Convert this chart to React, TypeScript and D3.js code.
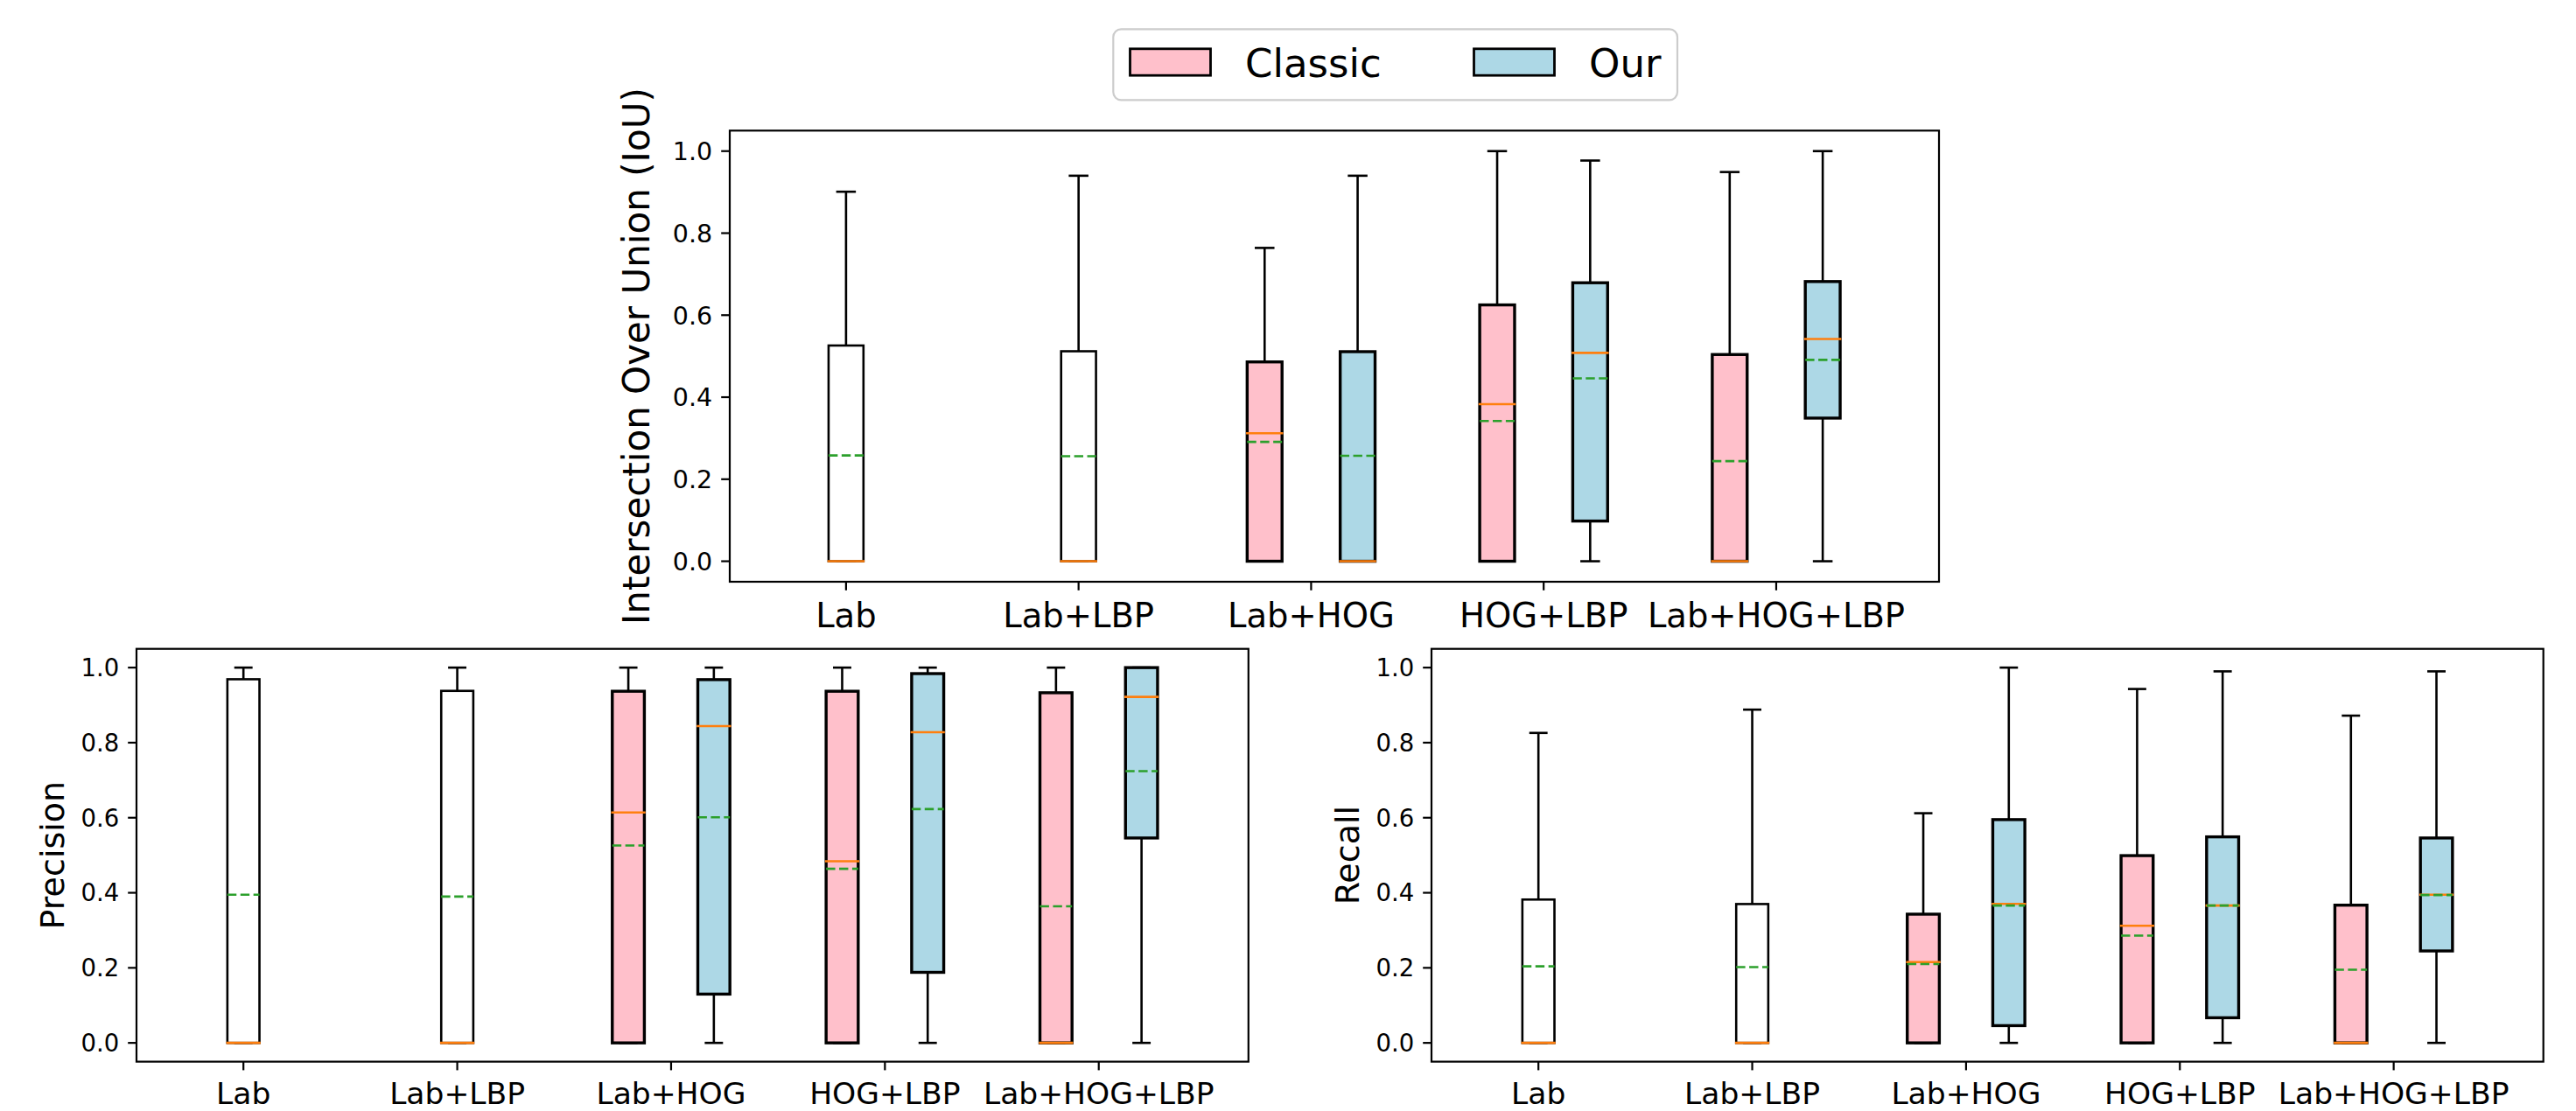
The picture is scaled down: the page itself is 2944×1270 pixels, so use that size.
import React from "react";
import * as d3 from "d3";

const categories = ["Lab", "Lab+LBP", "Lab+HOG", "HOG+LBP", "Lab+HOG+LBP"];
const seriesNames = ["Classic", "Our"];
const yTicks = [0, 0.2, 0.4, 0.6, 0.8, 1.0];

type Stat = { cat: string; lo: number; q1: number; med: number; q3: number; hi: number; mean: number };

// IoU
const iouSingle: Stat[] = [
  { cat: "Lab", lo: 0, q1: 0, med: 0, q3: 0.526, hi: 0.901, mean: 0.258 },
  { cat: "Lab+LBP", lo: 0, q1: 0, med: 0, q3: 0.512, hi: 0.94, mean: 0.256 },
];
const iouClassic: Stat[] = [
  { cat: "Lab+HOG", lo: 0, q1: 0, med: 0.312, q3: 0.486, hi: 0.764, mean: 0.291 },
  { cat: "HOG+LBP", lo: 0, q1: 0, med: 0.383, q3: 0.625, hi: 1.0, mean: 0.342 },
  { cat: "Lab+HOG+LBP", lo: 0, q1: 0, med: 0, q3: 0.504, hi: 0.949, mean: 0.244 },
];
const iouOur: Stat[] = [
  { cat: "Lab+HOG", lo: 0, q1: 0, med: 0, q3: 0.511, hi: 0.94, mean: 0.257 },
  { cat: "HOG+LBP", lo: 0, q1: 0.098, med: 0.508, q3: 0.679, hi: 0.977, mean: 0.446 },
  { cat: "Lab+HOG+LBP", lo: 0, q1: 0.349, med: 0.542, q3: 0.682, hi: 1.0, mean: 0.491 },
];

// Precision
const precSingle: Stat[] = [
  { cat: "Lab", lo: 0, q1: 0, med: 0, q3: 0.969, hi: 1.0, mean: 0.395 },
  { cat: "Lab+LBP", lo: 0, q1: 0, med: 0, q3: 0.938, hi: 1.0, mean: 0.39 },
];
const precClassic: Stat[] = [
  { cat: "Lab+HOG", lo: 0, q1: 0, med: 0.614, q3: 0.937, hi: 1.0, mean: 0.526 },
  { cat: "HOG+LBP", lo: 0, q1: 0, med: 0.484, q3: 0.937, hi: 1.0, mean: 0.464 },
  { cat: "Lab+HOG+LBP", lo: 0, q1: 0, med: 0, q3: 0.933, hi: 1.0, mean: 0.364 },
];
const precOur: Stat[] = [
  { cat: "Lab+HOG", lo: 0, q1: 0.13, med: 0.844, q3: 0.968, hi: 1.0, mean: 0.601 },
  { cat: "HOG+LBP", lo: 0, q1: 0.188, med: 0.828, q3: 0.984, hi: 1.0, mean: 0.623 },
  { cat: "Lab+HOG+LBP", lo: 0, q1: 0.546, med: 0.922, q3: 1.0, hi: 1.0, mean: 0.724 },
];

// Recall
const recSingle: Stat[] = [
  { cat: "Lab", lo: 0, q1: 0, med: 0, q3: 0.382, hi: 0.826, mean: 0.204 },
  { cat: "Lab+LBP", lo: 0, q1: 0, med: 0, q3: 0.37, hi: 0.888, mean: 0.202 },
];
const recClassic: Stat[] = [
  { cat: "Lab+HOG", lo: 0, q1: 0, med: 0.2155, q3: 0.343, hi: 0.612, mean: 0.21 },
  { cat: "HOG+LBP", lo: 0, q1: 0, med: 0.312, q3: 0.499, hi: 0.943, mean: 0.286 },
  { cat: "Lab+HOG+LBP", lo: 0, q1: 0, med: 0, q3: 0.367, hi: 0.872, mean: 0.195 },
];
const recOur: Stat[] = [
  { cat: "Lab+HOG", lo: 0, q1: 0.046, med: 0.3705, q3: 0.595, hi: 1.0, mean: 0.366 },
  { cat: "HOG+LBP", lo: 0, q1: 0.067, med: 0.366, q3: 0.549, hi: 0.99, mean: 0.366 },
  { cat: "Lab+HOG+LBP", lo: 0, q1: 0.245, med: 0.395, q3: 0.546, hi: 0.99, mean: 0.394 },
];

const FONT = "DejaVu Sans";
const PINK = "#ffc0cb";
const BLUE = "#add8e6";
const MEDIAN = "#ff7f0e";
const MEANC = "#2ca02c";

type PanelProps = {
  left: number; right: number; top: number; bottom: number;
  single: Stat[]; classic: Stat[]; our: Stat[];
  ylabel: string; ylabelSize: number; ylabelX: number;
  yTickSize: number; xTickSize: number; xLabelBaseline: number;
};

function Box({ s, pos, fill, x, y, edge }: { s: Stat; pos: number; fill: string; x: d3.ScaleLinear<number, number>; y: d3.ScaleLinear<number, number>; edge: number }) {
  const w = 0.15;
  const cw = 0.075;
  const x0 = x(pos - w / 2), x1 = x(pos + w / 2);
  const cx = x(pos);
  const c0 = x(pos - cw / 2), c1 = x(pos + cw / 2);
  const lw = 2.6;
  return (
    <g>
      {s.q1 > s.lo && <line x1={cx} x2={cx} y1={y(s.q1)} y2={y(s.lo)} stroke="#000" strokeWidth={lw} />}
      {s.hi > s.q3 && <line x1={cx} x2={cx} y1={y(s.q3)} y2={y(s.hi)} stroke="#000" strokeWidth={lw} />}
      <line x1={c0} x2={c1} y1={y(s.lo)} y2={y(s.lo)} stroke="#000" strokeWidth={lw} strokeLinecap="square" />
      <line x1={c0} x2={c1} y1={y(s.hi)} y2={y(s.hi)} stroke="#000" strokeWidth={lw} strokeLinecap="square" />
      <rect x={x0} y={y(s.q3)} width={x1 - x0} height={y(s.q1) - y(s.q3)} fill={fill} stroke="#000" strokeWidth={edge} />
      <line x1={x0} x2={x1} y1={y(s.med)} y2={y(s.med)} stroke={MEDIAN} strokeWidth={lw} strokeLinecap="square" />
      <line x1={x0} x2={x1} y1={y(s.mean)} y2={y(s.mean)} stroke={MEANC} strokeWidth={lw} strokeDasharray="10.4 4.5" />
    </g>
  );
}

function Panel(p: PanelProps) {
  const x = d3.scaleLinear().domain([0.5, 5.7]).range([p.left, p.right]);
  const y = d3.scaleLinear().domain([-0.05, 1.05]).range([p.bottom, p.top]);
  const idx = (c: string) => categories.indexOf(c) + 1;
  const tickLen = 9.8;
  return (
    <g>
      {p.single.map((s) => (
        <Box key={"s" + s.cat} s={s} pos={idx(s.cat)} fill="#ffffff" x={x} y={y} edge={2.6} />
      ))}
      {p.classic.map((s) => (
        <Box key={"c" + s.cat} s={s} pos={idx(s.cat) - 0.2} fill={PINK} x={x} y={y} edge={3.4} />
      ))}
      {p.our.map((s) => (
        <Box key={"o" + s.cat} s={s} pos={idx(s.cat) + 0.2} fill={BLUE} x={x} y={y} edge={3.4} />
      ))}
      <rect x={p.left} y={p.top} width={p.right - p.left} height={p.bottom - p.top} fill="none" stroke="#000" strokeWidth={2.2} />
      {yTicks.map((t) => (
        <g key={"yt" + t}>
          <line x1={p.left - tickLen} x2={p.left} y1={y(t)} y2={y(t)} stroke="#000" strokeWidth={2.2} />
          <text x={p.left - tickLen - 10} y={y(t)} dy="0.36em" textAnchor="end" fontFamily={FONT} fontSize={p.yTickSize} fill="#000">
            {d3.format(".1f")(t)}
          </text>
        </g>
      ))}
      {categories.map((c, i) => (
        <g key={"xt" + c}>
          <line x1={x(i + 1)} x2={x(i + 1)} y1={p.bottom} y2={p.bottom + tickLen} stroke="#000" strokeWidth={2.2} />
          <text x={x(i + 1)} y={p.xLabelBaseline} textAnchor="middle" fontFamily={FONT} fontSize={p.xTickSize} fill="#000">
            {c}
          </text>
        </g>
      ))}
      <text
        transform={`translate(${p.ylabelX},${(p.top + p.bottom) / 2}) rotate(-90)`}
        textAnchor="middle"
        fontFamily={FONT}
        fontSize={p.ylabelSize}
        fill="#000"
      >
        {p.ylabel}
      </text>
    </g>
  );
}

function Legend() {
  const fills = [PINK, BLUE];
  const patchX = [1291.5, 1684.5];
  const textX = [1423, 1816];
  return (
    <g>
      <rect x={1272.3} y={33.3} width={644.7} height={81} rx={9} fill="#fff" fillOpacity={0.8} stroke="#cccccc" strokeWidth={2.2} />
      {seriesNames.map((n, i) => (
        <g key={n}>
          <rect x={patchX[i]} y={55.8} width={92} height={30.4} fill={fills[i]} stroke="#000" strokeWidth={2.8} />
          <text x={textX[i]} y={88} fontFamily={FONT} fontSize={45} fill="#000">
            {n}
          </text>
        </g>
      ))}
    </g>
  );
}

export default function App() {
  return (
    <div style={{ position: "absolute", left: 0, top: 0 }}>
      <svg width={2944} height={1270} viewBox="0 0 2944 1270" style={{ display: "block", background: "#fff" }}>
        <rect x={0} y={0} width={2944} height={1270} fill="#fff" />
        <Panel
          left={834} right={2216} top={149.3} bottom={665}
          single={iouSingle} classic={iouClassic} our={iouOur}
          ylabel="Intersection Over Union (IoU)" ylabelSize={42} ylabelX={742}
          yTickSize={28.5} xTickSize={38.5} xLabelBaseline={716.7}
        />
        <Panel
          left={156} right={1426.8} top={741.7} bottom={1213.6}
          single={precSingle} classic={precClassic} our={precOur}
          ylabel="Precision" ylabelSize={38} ylabelX={72.7}
          yTickSize={27.5} xTickSize={34.5} xLabelBaseline={1262}
        />
        <Panel
          left={1636} right={2906.7} top={741.7} bottom={1213.6}
          single={recSingle} classic={recClassic} our={recOur}
          ylabel="Recall" ylabelSize={38} ylabelX={1552.7}
          yTickSize={27.5} xTickSize={34.5} xLabelBaseline={1262}
        />
        <Legend />
      </svg>
    </div>
  );
}
